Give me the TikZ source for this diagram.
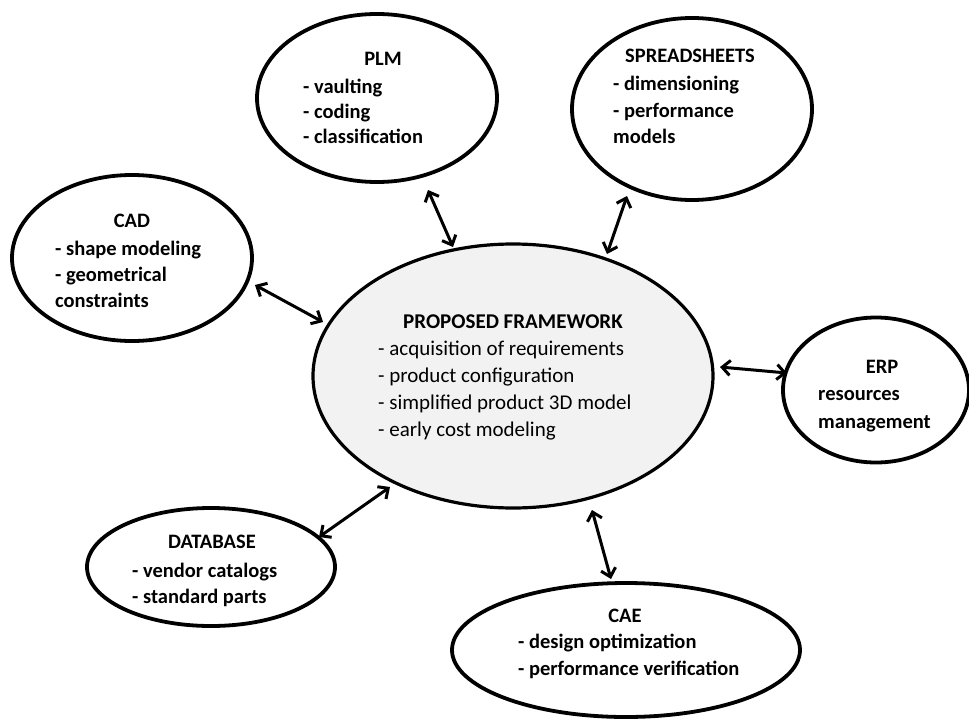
\documentclass[tikz,border=0pt]{standalone}
\usepackage{fontspec}
\setmainfont{Carlito}
\usetikzlibrary{shapes.geometric,arrows.meta}
\begin{document}
\begin{tikzpicture}[x=1pt,y=-1pt,
 sat/.style={ellipse,draw=black,line width=3.8pt,fill=white,inner sep=0pt},
 cen/.style={ellipse,draw=black,line width=3.2pt,fill={rgb,255:red,242;green,242;blue,242},inner sep=0pt},
 st/.style={font=\fontsize{20.5}{24}\selectfont\bfseries,anchor=mid,inner sep=0pt,yshift=-3pt},
 sl/.style={font=\fontsize{20.5}{24}\selectfont\bfseries,anchor=mid west,inner sep=0pt,yshift=-3pt},
 ct/.style={font=\fontsize{21}{26}\selectfont\bfseries,anchor=mid,inner sep=0pt,yshift=-3pt},
 cl/.style={font=\fontsize{21}{26}\selectfont,anchor=mid west,inner sep=0pt,yshift=-3pt},
 link/.style={line width=3pt,{Straight Barb[length=8pt,width=15pt]}-{Straight Barb[length=8pt,width=15pt]}}
]
\useasboundingbox (0,0) rectangle (969,720);

% ellipses
\node[cen,minimum width=400pt,minimum height=264pt] (fw) at (513,376) {};
\node[sat,minimum width=240pt,minimum height=168pt] (plm) at (377,98) {};
\node[sat,minimum width=240pt,minimum height=182pt] (ss) at (692,109) {};
\node[sat,minimum width=240pt,minimum height=166pt] (cad) at (132,258) {};
\node[sat,minimum width=248pt,minimum height=118pt] (db) at (211,567) {};
\node[sat,minimum width=186pt,minimum height=145pt] (erp) at (876,390) {};
\node[sat,minimum width=348pt,minimum height=134pt] (cae) at (626,650) {};

% central text
\node[ct] (fwT) at (513,323) {PROPOSED FRAMEWORK};
\node[cl] (fw1) at (378,350) {- acquisition of requirements};
\node[cl] (fw2) at (378,377) {- product configuration};
\node[cl] (fw3) at (378,404) {- simplified product 3D model};
\node[cl] (fw4) at (378,431) {- early cost modeling};

% PLM
\node[st] (plmT) at (383,60) {PLM};
\node[sl] (plm1) at (303,88) {- vaulting};
\node[sl] (plm2) at (303,113) {- coding};
\node[sl] (plm3) at (303,138) {- classification};

% SPREADSHEETS
\node[st] (ssT) at (690,57) {SPREADSHEETS};
\node[sl] (ss1) at (613,85) {- dimensioning};
\node[sl] (ss2) at (613,112) {- performance};
\node[sl] (ss3) at (613,138) {models};

% CAD
\node[st] (cadT) at (132,222) {CAD};
\node[sl] (cad1) at (55,250) {- shape modeling};
\node[sl] (cad2) at (55,276) {- geometrical};
\node[sl] (cad3) at (55,302) {constraints};

% DATABASE
\node[st] (dbT) at (212,543) {DATABASE};
\node[sl] (db1) at (132,572) {- vendor catalogs};
\node[sl] (db2) at (132,598) {- standard parts};

% ERP
\node[st] (erpT) at (882,368) {ERP};
\node[sl] (erp1) at (818,395) {resources};
\node[sl] (erp2) at (818,423) {management};

% CAE
\node[st] (caeT) at (625,617) {CAE};
\node[sl] (cae1) at (518,643) {- design optimization};
\node[sl] (cae2) at (518,670) {- performance verification};

% connector end points
\coordinate (plmE) at (428,190);
\coordinate (fwPLM) at (453,247);
\coordinate (cadE) at (255,285);
\coordinate (fwCAD) at (323,322);
\coordinate (ssE) at (627,196);
\coordinate (fwSS) at (607,254);
\coordinate (erpE) at (787,373);
\coordinate (fwERP) at (720,367);
\coordinate (dbE) at (319,537);
\coordinate (fwDB) at (390,487);
\coordinate (caeE) at (611,579);
\coordinate (fwCAE) at (592,510);

\draw[link] (plmE) -- (fwPLM);
\draw[link] (cadE) -- (fwCAD);
\draw[link] (ssE) -- (fwSS);
\draw[link] (fwERP) -- (erpE);
\draw[link] (dbE) -- (fwDB);
\draw[link] (fwCAE) -- (caeE);
\end{tikzpicture}
\end{document}
